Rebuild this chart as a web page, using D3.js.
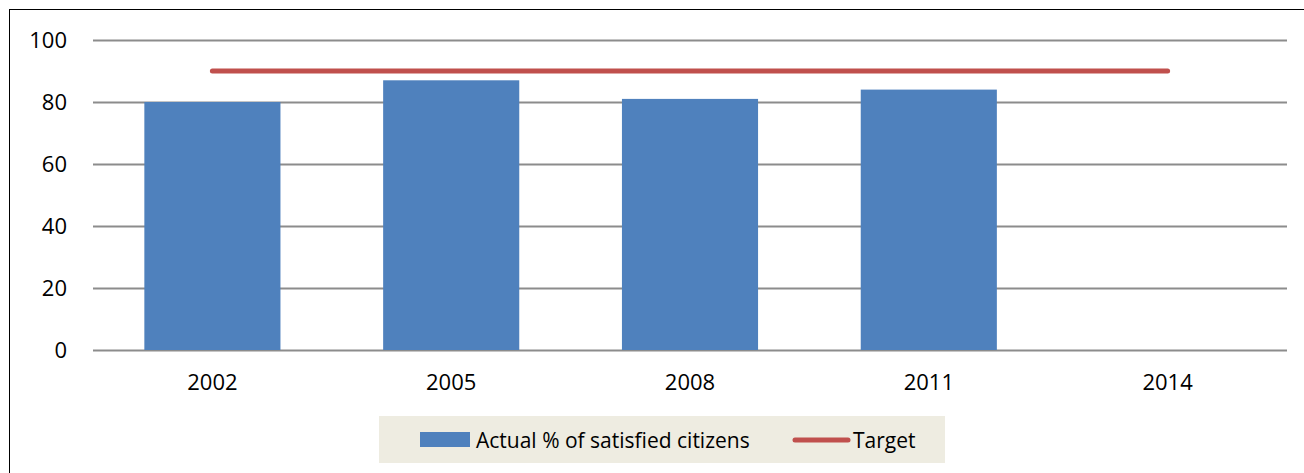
<!DOCTYPE html>
<html>
<head>
<meta charset="utf-8">
<script src="https://cdn.jsdelivr.net/npm/d3@7"></script>
<style>
  html, body { margin: 0; padding: 0; background: #fff; }
  svg { display: block; }
</style>
</head>
<body>
<svg id="chart" width="1304" height="473"></svg>
<script>
// Survey years and results
const years = ["2002", "2005", "2008", "2011", "2014"];
const actual = [80, 87, 81, 84, null];
const target = [90, 90, 90, 90, 90];
const yTicks = [0, 20, 40, 60, 80, 100];
const seriesNames = ["Actual % of satisfied citizens", "Target"];

const W = 1304, H = 473;
const margin = { left: 93, right: 17, top: 40, bottom: 123 };
const font = "'Open Sans', sans-serif";

const svg = d3.select("#chart");

// outer frame (extends past the right and bottom edges)
svg.append("rect")
  .attr("x", 9.5).attr("y", 9.5)
  .attr("width", W + 20).attr("height", H + 20)
  .attr("fill", "none").attr("stroke", "#000").attr("stroke-width", 1);

const x = d3.scaleBand()
  .domain(years)
  .range([margin.left, W - margin.right])
  .paddingInner(0.43).paddingOuter(0.215);

const y = d3.scaleLinear()
  .domain([0, 100])
  .range([H - margin.bottom, margin.top]);

// horizontal gridlines + value axis labels
const yAxis = d3.axisLeft(y)
  .tickValues(yTicks)
  .tickSize(-(W - margin.right - margin.left))
  .tickPadding(26);

const gy = svg.append("g")
  .attr("transform", `translate(${margin.left},0)`)
  .call(yAxis);
gy.select(".domain").remove();
gy.selectAll(".tick line").attr("stroke", "#8c8c8c").attr("stroke-width", 2);
gy.selectAll(".tick text")
  .attr("font-family", font).attr("font-size", 22).attr("fill", "#000");

// bars
svg.append("g").selectAll("rect")
  .data(years.map((yr, i) => ({ yr, v: actual[i] })).filter(d => d.v != null))
  .join("rect")
  .attr("x", d => x(d.yr))
  .attr("y", d => y(d.v))
  .attr("width", x.bandwidth())
  .attr("height", d => y(0) - y(d.v))
  .attr("fill", "#4f81bd");

// target line across category centres
const line = d3.line()
  .x((d, i) => x(years[i]) + x.bandwidth() / 2)
  .y(d => y(d));
svg.append("path")
  .datum(target)
  .attr("d", line)
  .attr("fill", "none")
  .attr("stroke", "#c0504d")
  .attr("stroke-width", 5)
  .attr("stroke-linecap", "round");

// category axis labels
const xAxis = d3.axisBottom(x).tickSize(0).tickPadding(24);
const gx = svg.append("g")
  .attr("transform", `translate(0,${y(0)})`)
  .call(xAxis);
gx.select(".domain").remove();
gx.selectAll(".tick text")
  .attr("font-family", font).attr("font-size", 22).attr("fill", "#000");

// legend
const lg = svg.append("g");
lg.append("rect")
  .attr("x", 379).attr("y", 416).attr("width", 566).attr("height", 47)
  .attr("fill", "#eeece1");
lg.append("rect")
  .attr("x", 420).attr("y", 432).attr("width", 50).attr("height", 15)
  .attr("fill", "#4f81bd");
lg.append("text")
  .attr("x", 476).attr("y", 447.5)
  .attr("font-family", font).attr("font-size", 21).attr("fill", "#000")
  .text(seriesNames[0]);
lg.append("line")
  .attr("x1", 795).attr("x2", 848).attr("y1", 440).attr("y2", 440)
  .attr("stroke", "#c0504d").attr("stroke-width", 5).attr("stroke-linecap", "round");
lg.append("text")
  .attr("x", 853).attr("y", 447.5)
  .attr("font-family", font).attr("font-size", 21).attr("fill", "#000")
  .text(seriesNames[1]);
</script>
</body>
</html>
